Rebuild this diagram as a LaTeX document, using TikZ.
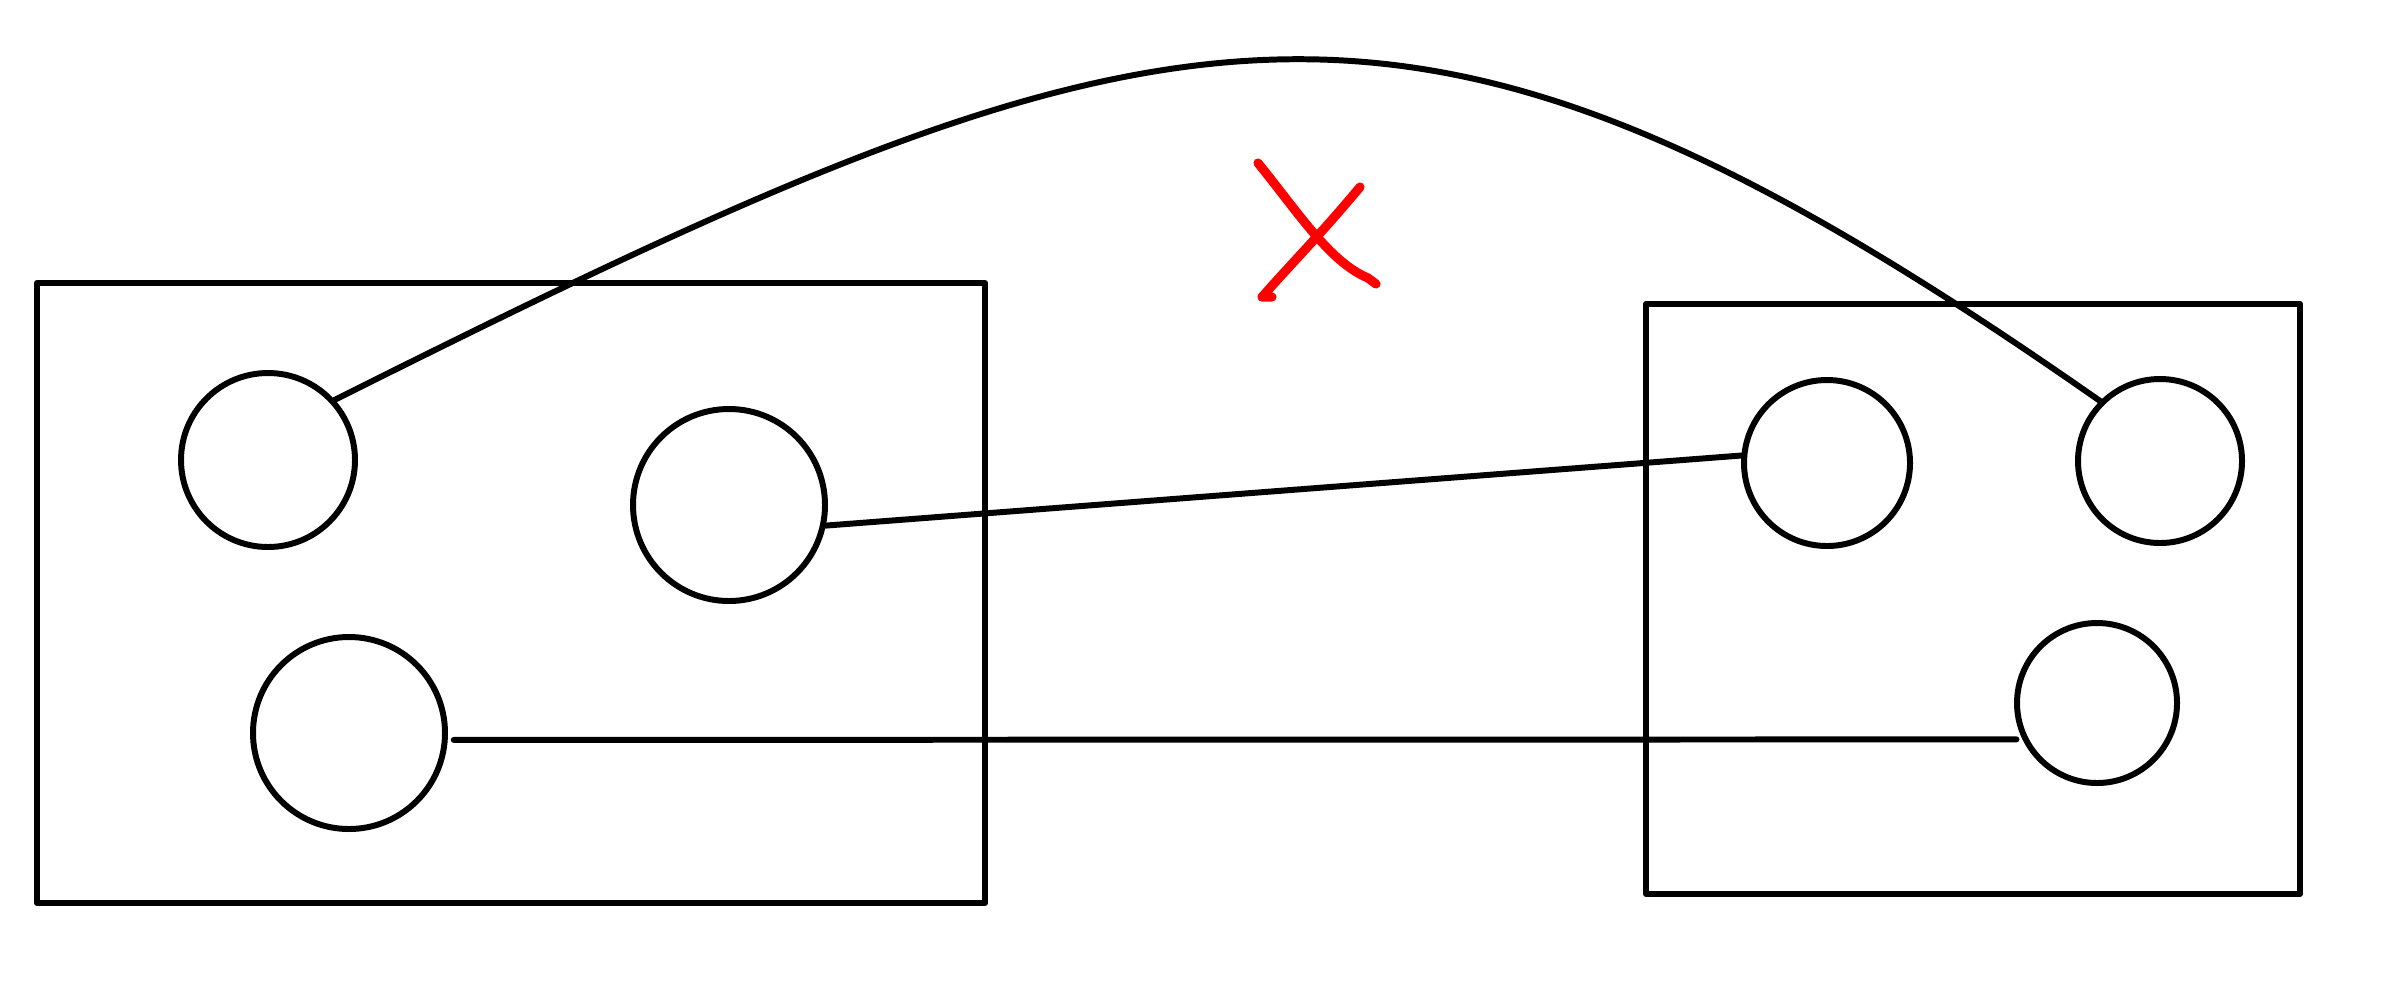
\documentclass[tikz,border=0pt]{standalone}
\begin{document}
\begin{tikzpicture}[x=0.1mm, y=-0.1mm, line width=1.7pt,
  groupbox/.style={draw, rectangle, line join=round, inner sep=0pt},
  ball/.style={draw, circle, inner sep=0pt},
  link/.style={line cap=round},
  redmark/.style={red, line width=2.6pt, line cap=round, line join=round}]
\useasboundingbox (0,0) rectangle (2386,1000);
% Boxes
\node[groupbox, minimum width=94.8mm, minimum height=62mm] (Left) at (511,593) {};
\node[groupbox, minimum width=65.4mm, minimum height=59mm] (Right) at (1973,599) {};

% Circles
\node[ball, minimum size=17.4mm] (A) at (268,460) {};
\node[ball, minimum size=19.2mm] (B) at (729,505) {};
\node[ball, minimum size=19.2mm] (C) at (349,733) {};
\node[ball, minimum size=16.6mm] (D) at (1827,463) {};
\node[ball, minimum size=16.4mm] (E) at (2160,461) {};
\node[ball, minimum size=16mm] (F) at (2097,703) {};

% Links
\draw[link] (B.-12) -- (D.175);
\draw[link, shorten <=0.6mm, shorten >=0.6mm] (C.-4) -- (F.206);
\draw[link] (A.42) .. controls (1179,-23) and (1405,-85) .. (E.135);

% Cross
\draw[redmark] (1258,163) .. controls (1300,215) and (1330,262) .. (1368,278) -- (1376,284);
\draw[redmark] (1360,187) .. controls (1320,235) and (1290,265) .. (1262,297) -- (1272,297);
\end{tikzpicture}
\end{document}
